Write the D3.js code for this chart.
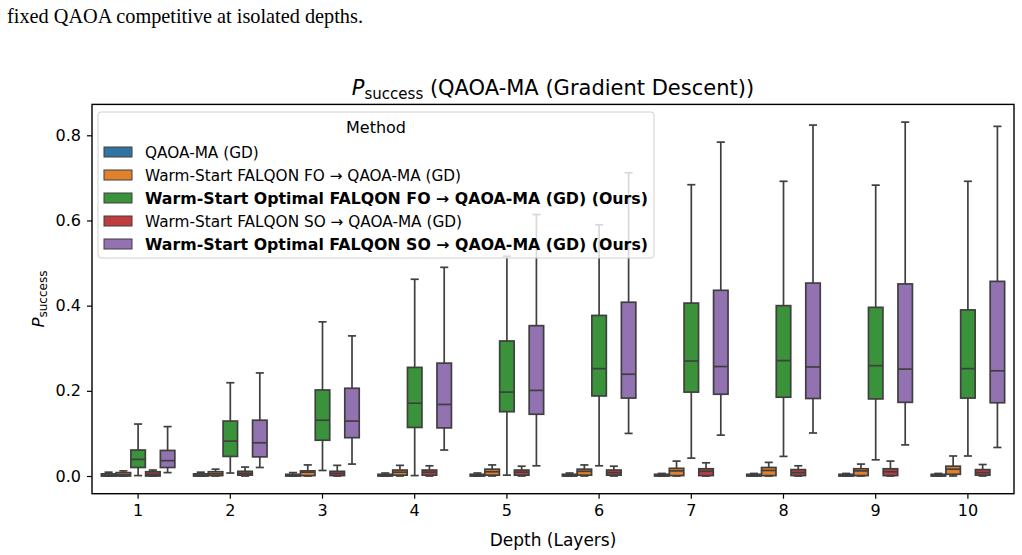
<!DOCTYPE html>
<html>
<head>
<meta charset="utf-8">
<script src="https://cdn.jsdelivr.net/npm/d3@7"></script>
<style>
  body { margin: 0; background: #fff; }
  svg { display: block; font-family: "DejaVu Sans", sans-serif; }
</style>
</head>
<body>
<div id="chart"></div>
<script>
// depths on the x axis
var depths = [1, 2, 3, 4, 5, 6, 7, 8, 9, 10];

var methods = [
    "QAOA-MA (GD)",
    "Warm-Start FALQON FO \u2192 QAOA-MA (GD)",
    "Warm-Start Optimal FALQON FO \u2192 QAOA-MA (GD) (Ours)",
    "Warm-Start FALQON SO \u2192 QAOA-MA (GD)",
    "Warm-Start Optimal FALQON SO \u2192 QAOA-MA (GD) (Ours)"
];
var boldMethods = [false, false, true, false, true];
var colors = ["#3274a1", "#e1812c", "#3a923a", "#c03d3e", "#9372b2"];

// box stats per depth: [min, q1, median, q3, max]
var qaoaMA = [
    [0, 0, 0.001, 0.005, 0.009], [0, 0, 0.001, 0.005, 0.009], [0, 0, 0.001, 0.004, 0.008],
    [0, 0, 0.001, 0.004, 0.007], [0, 0, 0.001, 0.004, 0.007], [0, 0, 0.001, 0.004, 0.007],
    [0, 0, 0.001, 0.004, 0.006], [0, 0, 0.001, 0.004, 0.006], [0, 0, 0.001, 0.004, 0.006],
    [0, 0, 0.001, 0.004, 0.006]
];
var falqonFO = [
    [0, 0, 0.003, 0.008, 0.012], [0, 0.001, 0.005, 0.010, 0.016], [0, 0.001, 0.009, 0.012, 0.026],
    [0, 0.002, 0.009, 0.014, 0.025], [0, 0.002, 0.010, 0.016, 0.026], [0, 0.002, 0.011, 0.016, 0.026],
    [0, 0.001, 0.012, 0.018, 0.035], [0, 0.001, 0.013, 0.020, 0.032], [0, 0.001, 0.012, 0.017, 0.028],
    [0, 0.004, 0.016, 0.023, 0.047]
];
var optFO = [
    [0.001, 0.020, 0.039, 0.061, 0.122], [0.007, 0.046, 0.082, 0.129, 0.219], [0.013, 0.084, 0.131, 0.202, 0.362],
    [0.001, 0.114, 0.171, 0.255, 0.462], [0.002, 0.151, 0.197, 0.317, 0.516], [0.024, 0.188, 0.252, 0.377, 0.590],
    [0.042, 0.197, 0.270, 0.406, 0.684], [0.046, 0.185, 0.271, 0.400, 0.692], [0.038, 0.181, 0.259, 0.396, 0.683],
    [0.047, 0.183, 0.252, 0.390, 0.692]
];
var falqonSO = [
    [0, 0, 0.004, 0.010, 0.014], [0, 0.002, 0.006, 0.011, 0.021], [0, 0.001, 0.006, 0.011, 0.025],
    [0, 0.002, 0.009, 0.014, 0.024], [0, 0.002, 0.009, 0.014, 0.023], [0, 0.002, 0.008, 0.014, 0.023],
    [0, 0.001, 0.011, 0.017, 0.031], [0, 0.001, 0.008, 0.015, 0.024], [0, 0.001, 0.010, 0.017, 0.035],
    [0, 0.002, 0.008, 0.015, 0.027]
];
var optSO = [
    [0.008, 0.020, 0.036, 0.060, 0.116], [0.020, 0.045, 0.078, 0.131, 0.242], [0.028, 0.090, 0.129, 0.206, 0.329],
    [0.061, 0.113, 0.168, 0.265, 0.490], [0.024, 0.145, 0.201, 0.353, 0.614], [0.100, 0.183, 0.239, 0.408, 0.712],
    [0.096, 0.192, 0.257, 0.436, 0.784], [0.101, 0.182, 0.256, 0.453, 0.824], [0.073, 0.173, 0.251, 0.451, 0.831],
    [0.067, 0.172, 0.247, 0.457, 0.821]
];
var series = [qaoaMA, falqonFO, optFO, falqonSO, optSO];

var yTicks = [0, 0.2, 0.4, 0.6, 0.8];

var width = 1022, height = 555;
var plotLeft = 92, plotRight = 1014;

var svg = d3.select("#chart").append("svg")
    .attr("width", width)
    .attr("height", height);

// caption line from the paper above the figure
svg.append("text")
    .attr("x", 7)
    .attr("y", 23)
    .style("font-family", "'Liberation Serif', 'Times New Roman', serif")
    .style("font-size", "20.3px")
    .text("fixed QAOA competitive at isolated depths.");

var yMax = d3.max(series, function(s) { return d3.max(s, function(d) { return d[4]; }); });
var pad = yMax * 0.05;
var y = d3.scaleLinear().domain([-pad, yMax + pad]).range([493.7, 104.4]);
var plotTop = y.range()[1], plotBottom = y.range()[0];

var x = d3.scaleBand().domain(depths).range([plotLeft, plotRight]);
var xInner = d3.scaleBand().domain(d3.range(methods.length))
    .range([x.bandwidth() * 0.1, x.bandwidth() * 0.9]);

var lineColor = "#3f3f3f";

var groups = svg.selectAll("g.depth")
    .data(depths)
    .enter().append("g")
    .attr("class", "depth")
    .attr("transform", function(d) { return "translate(" + x(d) + ",0)"; });

series.forEach(function(s, m) {
    var bw = xInner.bandwidth() * 0.98;
    var cx = xInner(m) + xInner.bandwidth() / 2;
    var g = groups.append("g");
    // whiskers
    g.append("line")
        .attr("x1", cx).attr("x2", cx)
        .attr("y1", function(d, i) { return y(s[i][3]); })
        .attr("y2", function(d, i) { return y(s[i][4]); })
        .attr("stroke", lineColor).attr("stroke-width", 1.7);
    g.append("line")
        .attr("x1", cx).attr("x2", cx)
        .attr("y1", function(d, i) { return y(s[i][1]); })
        .attr("y2", function(d, i) { return y(s[i][0]); })
        .attr("stroke", lineColor).attr("stroke-width", 1.7);
    // caps
    [0, 4].forEach(function(k) {
        g.append("line")
            .attr("x1", cx - bw * 0.28).attr("x2", cx + bw * 0.28)
            .attr("y1", function(d, i) { return y(s[i][k]); })
            .attr("y2", function(d, i) { return y(s[i][k]); })
            .attr("stroke", lineColor).attr("stroke-width", 1.7);
    });
    // box
    g.append("rect")
        .attr("x", cx - bw / 2)
        .attr("width", bw)
        .attr("y", function(d, i) { return y(s[i][3]); })
        .attr("height", function(d, i) { return y(s[i][1]) - y(s[i][3]); })
        .attr("fill", colors[m])
        .attr("stroke", lineColor).attr("stroke-width", 1.7);
    // median
    g.append("line")
        .attr("x1", cx - bw / 2).attr("x2", cx + bw / 2)
        .attr("y1", function(d, i) { return y(s[i][2]); })
        .attr("y2", function(d, i) { return y(s[i][2]); })
        .attr("stroke", lineColor).attr("stroke-width", 1.7);
});

// axes
var yAxis = svg.append("g")
    .attr("transform", "translate(" + plotLeft + ",0)")
    .call(d3.axisLeft(y).tickValues(yTicks).tickFormat(d3.format(".1f")).tickSize(5).tickPadding(6));
var xAxis = svg.append("g")
    .attr("transform", "translate(0," + plotBottom + ")")
    .call(d3.axisBottom(x).tickSize(5).tickPadding(6));
[yAxis, xAxis].forEach(function(a) {
    a.select(".domain").remove();
    a.selectAll(".tick line").attr("stroke", "#000").attr("stroke-width", 1.2);
    a.selectAll(".tick text").attr("fill", "#000")
        .style("font-family", "'DejaVu Sans', sans-serif").style("font-size", "16px");
});

svg.append("rect")
    .attr("x", plotLeft).attr("y", plotTop)
    .attr("width", plotRight - plotLeft).attr("height", plotBottom - plotTop)
    .attr("fill", "none").attr("stroke", "#000").attr("stroke-width", 1.4);

// title
var title = svg.append("text")
    .attr("x", (plotLeft + plotRight) / 2)
    .attr("y", 95)
    .attr("text-anchor", "middle")
    .style("font-size", "21px");
title.append("tspan").style("font-style", "italic").text("P");
title.append("tspan").attr("dy", 4).style("font-size", "15px").text("success");
title.append("tspan").attr("dy", -4).text(" (QAOA-MA (Gradient Descent))");

// axis labels
svg.append("text")
    .attr("x", (plotLeft + plotRight) / 2)
    .attr("y", 546)
    .attr("text-anchor", "middle")
    .style("font-size", "17px")
    .text("Depth (Layers)");

var yl = svg.append("text")
    .attr("transform", "translate(44," + ((plotTop + plotBottom) / 2) + ") rotate(-90)")
    .attr("text-anchor", "middle")
    .style("font-size", "16.5px");
yl.append("tspan").style("font-style", "italic").text("P");
yl.append("tspan").attr("dy", 3).style("font-size", "12px").text("success");

// legend
var legend = svg.append("g");
legend.append("rect")
    .attr("x", 98).attr("y", 112)
    .attr("width", 556).attr("height", 146)
    .attr("rx", 3)
    .attr("fill", "#fff").attr("fill-opacity", 0.8)
    .attr("stroke", "#d0d0d0").attr("stroke-width", 1);
legend.append("text")
    .attr("x", 376).attr("y", 133)
    .attr("text-anchor", "middle")
    .style("font-size", "16px")
    .text("Method");
var items = legend.selectAll("g.item")
    .data(methods)
    .enter().append("g")
    .attr("transform", function(d, i) { return "translate(0," + (152 + i * 23) + ")"; });
items.append("rect")
    .attr("x", 104).attr("y", -5)
    .attr("width", 28).attr("height", 10)
    .attr("fill", function(d, i) { return colors[i]; })
    .attr("stroke", lineColor).attr("stroke-width", 1);
items.append("text")
    .attr("x", 145).attr("y", 5.5)
    .style("font-size", "15.3px")
    .style("font-weight", function(d, i) { return boldMethods[i] ? "bold" : "normal"; })
    .each(function(d, i) {
        if (boldMethods[i]) d3.select(this).attr("textLength", 503).attr("lengthAdjust", "spacingAndGlyphs");
    })
    .text(function(d) { return d; });
</script>
</body>
</html>
